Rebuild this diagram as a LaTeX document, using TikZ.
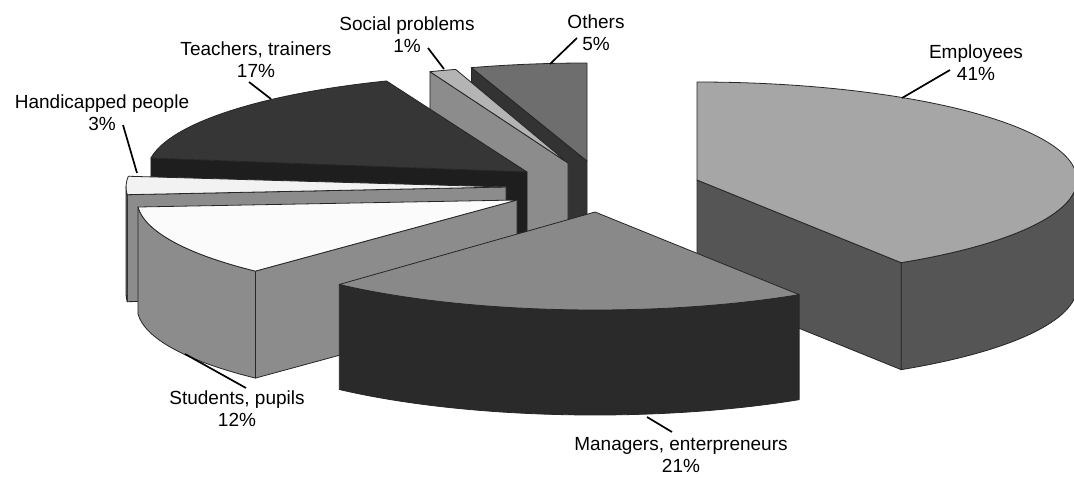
\documentclass[tikz,border=0pt]{standalone}
\usepackage{fontspec}
\setmainfont{Liberation Sans}
\usetikzlibrary{calc}
\tikzset{
  edge/.style={draw=black!85, line width=0.8pt, line join=round},
  lbl/.style={font=\fontsize{19}{22}\selectfont, align=center, inner sep=0pt},
  leader/.style={line width=1.7pt, black},
}
\newcommand\slicetop[4]{%
  \filldraw[edge, fill=#4] (#1) -- ($(#1)+(#2:380 and 98)$) arc[start angle=#2, end angle=#3, x radius=380, y radius=98] -- cycle;}
\newcommand\slicecut[4]{%
  \filldraw[edge, fill=#3] (#1) -- ($(#1)+(#2:380 and 98)$) -- ++(0,-#4) -- ($(#1)+(0,-#4)$) -- cycle;}
\newcommand\sliceside[5]{%
  \filldraw[edge, fill=#4] ($(#1)+(#2:380 and 98)$) arc[start angle=#2, end angle=#3, x radius=380, y radius=98] -- ++(0,-#5) arc[start angle=#3, end angle=#2, x radius=380, y radius=98] -- cycle;}
\definecolor{empTop}{HTML}{A6A6A6}
\definecolor{empSide}{HTML}{555555}
\definecolor{manTop}{HTML}{898989}
\definecolor{manSide}{HTML}{2A2A2A}
\definecolor{stuTop}{HTML}{FBFBFB}
\definecolor{midGray}{HTML}{8C8C8C}
\definecolor{hanTop}{HTML}{F2F2F2}
\definecolor{teaTop}{HTML}{363636}
\definecolor{teaCut}{HTML}{1E1E1E}
\definecolor{socTop}{HTML}{B4B4B4}
\definecolor{othTop}{HTML}{6E6E6E}
\definecolor{othCut}{HTML}{333333}
\begin{document}
\begin{tikzpicture}[x=1pt, y=1pt]
\useasboundingbox (0,0) rectangle (1074,-477);
\fill[white] (0,0) rectangle (1074,-477);
\clip (0,0) rectangle (1074,-477);

\coordinate (Oc) at (587,-161);
\coordinate (Sc) at (568,-163);
\coordinate (Tc) at (527,-172);
\coordinate (Hc) at (506,-187);
\coordinate (Uc) at (517,-200);
\coordinate (Ec) at (697,-180);
\coordinate (Mc) at (595,-212);

% Others
\slicecut{Oc}{107.7}{othCut}{107}
\slicetop{Oc}{90}{107.7}{othTop}
% Social problems
\slicecut{Sc}{111.3}{midGray}{107}
\slicetop{Sc}{107.2}{111.3}{socTop}
% Teachers
\slicecut{Tc}{171.8}{teaCut}{107}
\slicetop{Tc}{111.7}{171.8}{teaTop}
% Handicapped
\slicecut{Hc}{184.5}{midGray}{107}
\sliceside{Hc}{180}{184.5}{midGray}{107}
\slicetop{Hc}{173.7}{184.5}{hanTop}
% Students
\slicecut{Uc}{226.5}{midGray}{107}
\sliceside{Uc}{184.1}{226.5}{midGray}{107}
\slicetop{Uc}{184.1}{226.5}{stuTop}
% Employees
\slicecut{Ec}{-57.5}{empSide}{107}
\sliceside{Ec}{-57.5}{0}{empSide}{107}
\slicetop{Ec}{-57.5}{90}{empTop}
% Managers
\sliceside{Mc}{-132.3}{-57.5}{manSide}{105}
\slicetop{Mc}{-132.3}{-57.5}{manTop}

% labels
\node[lbl] (lEmp) at (976,-62.5) {Employees\\41\%};
\node[lbl] (lMan) at (681,-455) {Managers, enterpreneurs\\21\%};
\node[lbl] (lStu) at (237,-409) {Students, pupils\\12\%};
\node[lbl] (lHan) at (102,-113) {Handicapped people\\3\%};
\node[lbl] (lTea) at (256,-60) {Teachers, trainers\\17\%};
\node[lbl] (lSoc) at (407,-34.5) {Social problems\\1\%};
\node[lbl] (lOth) at (596,-33) {Others\\5\%};

% leader ends
\coordinate (eA) at (902,-98);   \coordinate (eB) at (950,-70);
\coordinate (mA) at (647,-417);  \coordinate (mB) at (672,-432);
\coordinate (sA) at (185,-354);  \coordinate (sB) at (246,-388);
\coordinate (hA) at (137,-173);  \coordinate (hB) at (123,-125);
\coordinate (tA) at (271,-99);   \coordinate (tB) at (249,-82);
\coordinate (pA) at (444,-69);   \coordinate (pB) at (428,-48);
\coordinate (oA) at (550,-64);   \coordinate (oB) at (577,-38);
\draw[leader] (eA) -- (eB);
\draw[leader] (mA) -- (mB);
\draw[leader] (sA) -- (sB);
\draw[leader] (hA) -- (hB);
\draw[leader] (tA) -- (tB);
\draw[leader] (pA) -- (pB);
\draw[leader] (oA) -- (oB);
\end{tikzpicture}
\end{document}
